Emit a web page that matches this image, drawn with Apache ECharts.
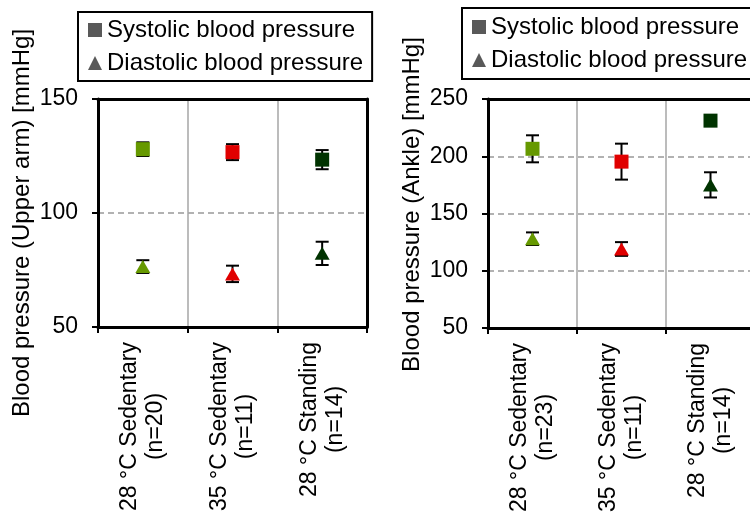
<!DOCTYPE html>
<html>
<head>
<meta charset="utf-8">
<script src="https://cdn.jsdelivr.net/npm/echarts@6/dist/echarts.min.js"></script>
<style>
  html, body { margin: 0; padding: 0; background: #fff; }
  #chart { width: 750px; height: 514px; }
</style>
</head>
<body>
<div id="chart"></div>
<script>
// Groups shown on both panels
var categories = ['28 °C Sedentary', '35 °C Sedentary', '28 °C Standing'];
var armN = ['(n=20)', '(n=11)', '(n=14)'];
var ankleN = ['(n=23)', '(n=11)', '(n=14)'];

// Upper arm blood pressure, mean and error [mmHg]
var armSys = [128, 126.7, 123.4];
var armSysErr = [3, 3.5, 4.2];
var armDia = [76.5, 73.3, 82.3];
var armDiaErr = [2.8, 3.6, 5.1];

// Ankle blood pressure, mean and error [mmHg]
var ankleSys = [206.5, 195.3, 231.1];
var ankleSysErr = [11.8, 15.7, 4];
var ankleDia = [128, 119, 175];
var ankleDiaErr = [5.5, 6, 11];

var seriesNames = ['Systolic blood pressure', 'Diastolic blood pressure'];
var groupColors = ['#669900', '#e00000', '#003300'];
var FONT = '"Liberation Sans", Arial, Helvetica, sans-serif';

var chart = echarts.init(document.getElementById('chart'));

function makeLegend(left, top, padding) {
  return {
    orient: 'vertical',
    left: left,
    top: top,
    padding: padding,
    itemGap: 9,
    itemWidth: 14,
    itemHeight: 14,
    borderColor: '#000',
    borderWidth: 2,
    selectedMode: false,
    textStyle: { fontSize: 24, color: '#000', fontFamily: FONT },
    data: [
      { name: seriesNames[0], icon: 'rect', itemStyle: { color: '#595959', opacity: 1 } },
      { name: seriesNames[1], icon: 'triangle', itemStyle: { color: '#595959', opacity: 1 } }
    ]
  };
}

function makeXAxis(gridIndex, nLabels) {
  return {
    type: 'category',
    gridIndex: gridIndex,
    data: categories,
    boundaryGap: true,
    axisLine: { lineStyle: { color: '#000', width: 3 } },
    axisTick: { show: true, length: 6, lineStyle: { color: '#000', width: 2 } },
    splitLine: { show: true, showMinLine: false, showMaxLine: false,
      lineStyle: { color: '#a6a6a6', width: 1.5 } },
    axisLabel: {
      interval: 0,
      rotate: 90,
      margin: 15,
      color: '#000',
      fontFamily: FONT,
      fontSize: 23,
      lineHeight: 26,
      formatter: function (v, i) {
        return '{c|' + v + '}\n{c|' + nLabels[i] + '}';
      },
      rich: {
        c: { align: 'center', fontSize: 23, lineHeight: 26, fontFamily: FONT, color: '#000' }
      }
    }
  };
}

function makeYAxis(gridIndex, name, min, max, namePadding) {
  return {
    type: 'value',
    gridIndex: gridIndex,
    min: min,
    max: max,
    interval: 50,
    name: name,
    nameLocation: 'middle',
    nameGap: 64,
    nameRotate: 90,
    nameMoveOverlap: false,
    nameTextStyle: { fontSize: 24, color: '#000', fontFamily: FONT, padding: namePadding },
    axisLine: { show: true, lineStyle: { color: '#000', width: 3 } },
    axisTick: { show: true, length: 6, lineStyle: { color: '#000', width: 2 } },
    splitLine: { show: true, showMinLine: false, showMaxLine: false,
      lineStyle: { color: '#999', width: 1.5, type: [6, 4] } },
    axisLabel: { margin: 20, color: '#000', fontFamily: FONT, fontSize: 23 }
  };
}

// Plain black lines closing the plot frame on top and right
function frameXAxis(gridIndex) {
  return {
    type: 'category', gridIndex: gridIndex, position: 'top', data: categories,
    axisLine: { show: true, lineStyle: { color: '#000', width: 3 } },
    axisTick: { show: false }, axisLabel: { show: false }, splitLine: { show: false }
  };
}
function frameYAxis(gridIndex, min, max) {
  return {
    type: 'value', gridIndex: gridIndex, position: 'right', min: min, max: max, interval: 50,
    axisLine: { show: true, lineStyle: { color: '#000', width: 3 } },
    axisTick: { show: false }, axisLabel: { show: false }, splitLine: { show: false }
  };
}

// I-beam error bars drawn under the markers
function errorSeries(name, axisIdx, means, errs) {
  return {
    name: name,
    type: 'custom',
    xAxisIndex: axisIdx,
    yAxisIndex: axisIdx,
    z: 2,
    silent: true,
    data: means.map(function (m, i) { return [i, m, errs[i]]; }),
    renderItem: function (params, api) {
      var i = api.value(0), m = api.value(1), e = api.value(2);
      var hi = api.coord([i, m + e]);
      var lo = api.coord([i, m - e]);
      var cap = 6.5;
      var style = { stroke: '#000', lineWidth: 2 };
      return {
        type: 'group',
        children: [
          { type: 'line', shape: { x1: hi[0], y1: hi[1], x2: lo[0], y2: lo[1] }, style: style },
          { type: 'line', shape: { x1: hi[0] - cap, y1: hi[1], x2: hi[0] + cap, y2: hi[1] }, style: style },
          { type: 'line', shape: { x1: lo[0] - cap, y1: lo[1], x2: lo[0] + cap, y2: lo[1] }, style: style }
        ]
      };
    }
  };
}

function markerSeries(name, axisIdx, means, symbol, size) {
  return {
    name: name,
    type: 'scatter',
    xAxisIndex: axisIdx,
    yAxisIndex: axisIdx,
    z: 5,
    symbol: symbol,
    symbolSize: size,
    itemStyle: { opacity: 1 },
    emphasis: { disabled: true },
    data: means.map(function (m, i) {
      return { value: [i, m], itemStyle: { color: groupColors[i], opacity: 1 } };
    })
  };
}

var option = {
  backgroundColor: '#fff',
  animation: false,
  textStyle: { fontFamily: FONT },
  legend: [
    makeLegend(78, 12, [6, 9, 6, 10]),
    makeLegend(462, 8, [7, 9, 7, 10])
  ],
  grid: [
    { left: 98, top: 99, width: 269, height: 228, containLabel: false, outerBoundsMode: 'none' },
    { left: 488, top: 99, width: 267, height: 229, containLabel: false, outerBoundsMode: 'none' }
  ],
  xAxis: [makeXAxis(0, armN), makeXAxis(1, ankleN), frameXAxis(0), frameXAxis(1)],
  yAxis: [
    makeYAxis(0, 'Blood pressure (Upper arm) [mmHg]', 50, 150, [0, 20, 0, 0]),
    makeYAxis(1, 'Blood pressure (Ankle) [mmHg]', 50, 250, [0, 0, 0, 18]),
    frameYAxis(0, 50, 150),
    frameYAxis(1, 50, 250)
  ],
  series: [
    errorSeries(seriesNames[0], 0, armSys, armSysErr),
    errorSeries(seriesNames[1], 0, armDia, armDiaErr),
    markerSeries(seriesNames[0], 0, armSys, 'rect', 14),
    markerSeries(seriesNames[1], 0, armDia, 'triangle', [15, 13]),
    errorSeries(seriesNames[0], 1, ankleSys, ankleSysErr),
    errorSeries(seriesNames[1], 1, ankleDia, ankleDiaErr),
    markerSeries(seriesNames[0], 1, ankleSys, 'rect', 14),
    markerSeries(seriesNames[1], 1, ankleDia, 'triangle', [15, 13])
  ]
};

chart.setOption(option);
</script>
</body>
</html>
